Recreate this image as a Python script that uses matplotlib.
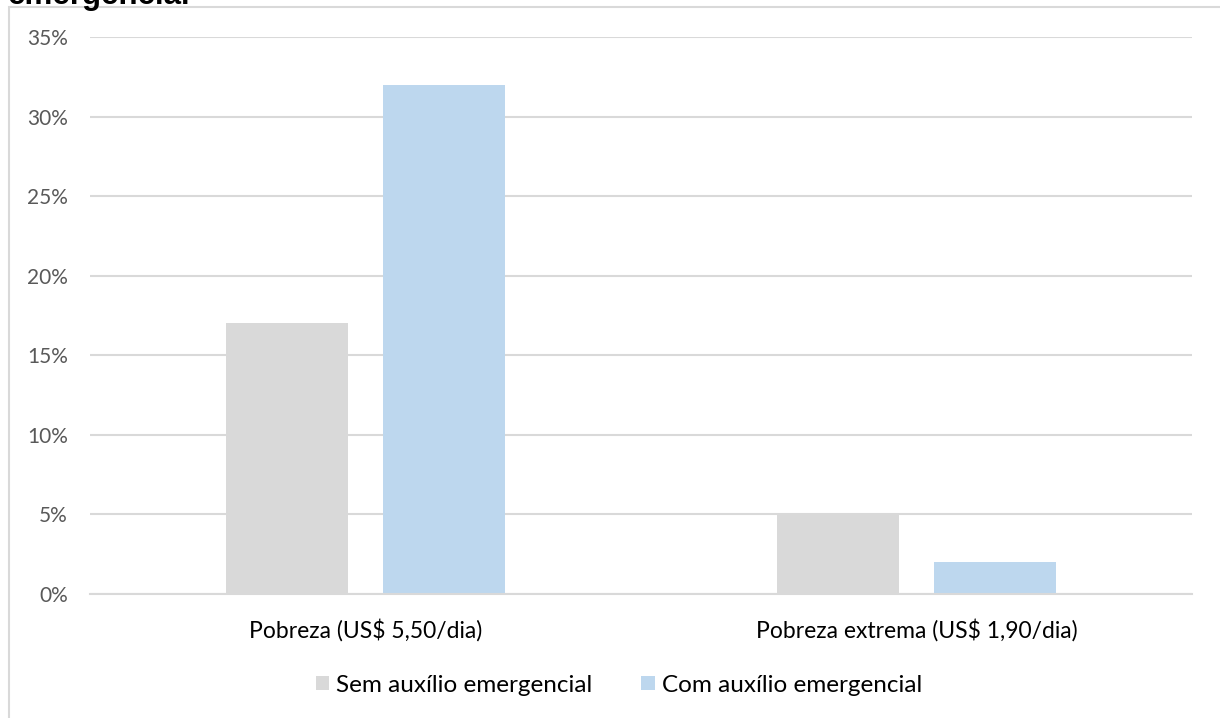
import numpy as np
import matplotlib.pyplot as plt
from matplotlib.patches import Rectangle
from matplotlib.ticker import FuncFormatter

categories = ["Pobreza (US$ 5,50/dia)", "Pobreza extrema (US$ 1,90/dia)"]
sem_auxilio = [0.17, 0.05]
com_auxilio = [0.32, 0.02]
series_names = ["Sem auxílio emergencial", "Com auxílio emergencial"]

plt.rcParams['font.family'] = ['Lato', 'DejaVu Sans']

fig = plt.figure(figsize=(12.2, 7.18), dpi=100)
ax = fig.add_axes([90/1220, 1 - 594/718, (1192 - 90)/1220, (594 - 37)/718])

# outer chart border (cut by the image edges)
fig.patches.append(Rectangle((8.5/1220, -0.1), 2, (1 - 7.5/718) + 0.1,
                             transform=fig.transFigure, fill=False,
                             edgecolor='#d9d9d9', linewidth=1.5))

# title, mostly cropped above the picture
fig.text(8/1220, 1 - 4/718, "emergencial", family='Liberation Sans',
         fontweight='bold', fontsize=22.5, ha='left', va='baseline')

x = np.arange(len(categories))
w = 0.223
off = 0.1425
ax.bar(x - off, sem_auxilio, w, color='#d9d9d9', label=series_names[0], zorder=2)
ax.bar(x + off, com_auxilio, w, color='#bdd7ee', label=series_names[1], zorder=2)

ax.set_xlim(-0.5, 1.5)
ax.set_ylim(0, 0.35)
ax.set_yticks(np.arange(0, 0.351, 0.05))
ax.yaxis.set_major_formatter(FuncFormatter(lambda v, p: f"{v*100:.0f}%"))
ax.set_xticks(x)
ax.set_xticklabels(categories)
ax.grid(axis='y', color='#d9d9d9', linewidth=1.5, zorder=0)
for s in ['top', 'right', 'left']:
    ax.spines[s].set_visible(False)
ax.spines['bottom'].set_color('#d9d9d9')
ax.spines['bottom'].set_linewidth(1.5)
ax.tick_params(axis='y', length=0, pad=16, labelsize=15, labelcolor='#595959')
ax.tick_params(axis='x', length=0, pad=18, labelsize=16.5, labelcolor='#000000')

fig.legend(loc='center', bbox_to_anchor=(619/1220, 1 - 685/718), ncol=2,
           frameon=False, fontsize=17.5, handlelength=0.55, handleheight=0.55,
           handletextpad=0.3, columnspacing=2.0)

fig.savefig("out.png", dpi=100)
